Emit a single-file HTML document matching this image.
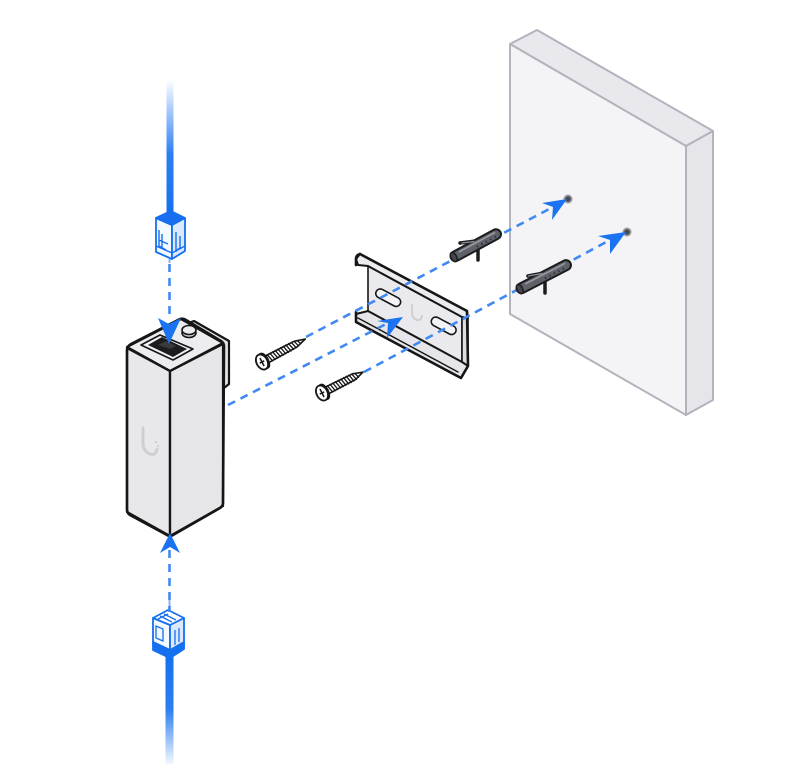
<!DOCTYPE html>
<html><head><meta charset="utf-8"><style>
html,body{margin:0;padding:0;background:#fff;}
svg{display:block;}
</style></head><body>
<svg width="800" height="764" viewBox="0 0 800 764" xmlns="http://www.w3.org/2000/svg">
<defs>
<linearGradient id="gTop" x1="0" y1="80" x2="0" y2="214" gradientUnits="userSpaceOnUse">
<stop offset="0" stop-color="#1570ef" stop-opacity="0"/>
<stop offset="0.55" stop-color="#1570ef" stop-opacity="0.9"/>
<stop offset="1" stop-color="#1570ef"/>
</linearGradient>
<linearGradient id="gBot" x1="0" y1="655" x2="0" y2="764" gradientUnits="userSpaceOnUse">
<stop offset="0" stop-color="#1570ef"/>
<stop offset="0.5" stop-color="#1570ef" stop-opacity="0.9"/>
<stop offset="1" stop-color="#1570ef" stop-opacity="0.05"/>
</linearGradient>
</defs>

<!-- WALL -->
<g stroke="#b2b4bd" stroke-width="2" stroke-linejoin="round">
<polygon points="510,44 537,30 713,131 686,146" fill="#e9e9ed"/>
<polygon points="686,146 713,131 713,400 686,415" fill="#e6e6ea"/>
<polygon points="510,44 686,146 686,415 510,314" fill="#f4f4f7"/>
</g>
<circle cx="568" cy="199" r="4.5" fill="#9a9ba2"/>
<circle cx="568" cy="199" r="2.8" fill="#4a4b52"/>
<circle cx="627" cy="232" r="4.5" fill="#9a9ba2"/>
<circle cx="627" cy="232" r="2.8" fill="#4a4b52"/>

<!-- CABLES -->
<rect x="166.5" y="80" width="7" height="136" fill="url(#gTop)"/>
<rect x="165.5" y="652" width="8" height="112" fill="url(#gBot)"/>

<!-- top connector -->
<g stroke="#1570ef" stroke-width="1.8" stroke-linejoin="round">
<polygon points="156,218 156,252 172,259 172,225" fill="#f4f8ff"/>
<polygon points="172,225 172,259 185,251 185,218" fill="#dce9fd"/>
<polygon points="156,218 171,211 185,218 172,225" fill="#1a6ff0"/>
</g>
<g stroke="#1570ef" stroke-width="1.4" fill="none">
<path d="M159,230 L159,246 L166,250 M162,234 L162,247 M159,240 L168,244"/>
<path d="M176,232 L176,252 M180,236 L180,248 L177,250"/>
<path d="M156,246 L172,253 L185,246"/>
</g>
<rect x="168.5" y="259" width="2" height="4" fill="#8bb5f5"/>

<!-- bottom connector -->
<g stroke="#1570ef" stroke-width="1.8" stroke-linejoin="round">
<polygon points="153,618 153,644 170,652 170,625" fill="#f4f8ff"/>
<polygon points="170,625 170,652 184,644 184,618" fill="#dce9fd"/>
<polygon points="153,618 168,610 184,618 170,625" fill="#ffffff"/>
<polygon points="153,642 170,650 184,642 184,649 170,658 153,650" fill="#1570ef"/>
</g>
<g stroke="#1570ef" stroke-width="1.3" fill="none">
<path d="M160,616 L172,622 M164,614 L176,620 M158,619 L168,614"/>
<path d="M156,626 L156,638 L163,641 L163,629 Z"/>
<path d="M175,630 L175,645 M179,628 L179,642"/>
</g>
<rect x="168.5" y="600" width="2" height="6" fill="#8bb5f5"/>

<!-- DEVICE -->
<g stroke="#161616" stroke-width="2.2" stroke-linejoin="round" stroke-linecap="round">
<polygon points="186,324 194,321 229,341 229,384 224,388 222,346" fill="#e4e4e8"/>
<polygon points="127,348 170,371 170,536 127,512" fill="#e8e8eb"/>
<polygon points="170,371 223,344 223,506 170,536" fill="#e6e6e9"/>
<polygon points="127,347 181,319 223,343 170,371" fill="#ededf0"/>
<path d="M131,344 L180,319 Q183,318 186,320 L221,341 Q224,343 224,346 L223,503 Q223,506 220,508 L173,535 Q170,537 167,535 L130,515 Q127,513 127,509 L127,351 Q127,346 131,344 Z" fill="none" stroke-width="2.6"/>
<path d="M128,348 L170,371 L222,344 M170,371 L170,535" fill="none"/>
</g>
<!-- port -->
<polygon points="141,345 160,335 193,349 173,360" fill="#f3f3f5" stroke="#161616" stroke-width="1.6" stroke-linejoin="round"/>
<polygon points="148,345 162,337 187,349 173,357" fill="#1c1c1e"/>
<path d="M158,345 L166,341 L176,346 L170,349 Z" fill="#3a3a3e"/>
<!-- LED -->
<ellipse cx="189" cy="333" rx="7" ry="4.5" fill="#d8d8dc" stroke="#161616" stroke-width="1.6"/>
<ellipse cx="189" cy="330" rx="7" ry="4.5" fill="#ececef" stroke="#161616" stroke-width="1.6"/>
<!-- logo -->
<path d="M143,428 L143,443 Q143,451 150,454 Q156,456 157,449" fill="none" stroke="#cfcfd3" stroke-width="3" stroke-linecap="round"/>
<circle cx="156" cy="442" r="1.2" fill="#cfcfd3"/>
<circle cx="158" cy="446" r="1" fill="#cfcfd3"/>

<!-- RAIL -->
<g stroke="#161616" stroke-linejoin="round" stroke-linecap="round">
<polygon points="368,266 462,317 462,362 368,311" fill="#eaeaee" stroke-width="1.6"/>
<polygon points="356,259 360,254 467,311 468,318 462,317 368,266 358,265" fill="#ececf0" stroke-width="2"/>
<polygon points="462,317 468,318 468,366 462,362" fill="#dedee2" stroke-width="1.6"/>
<polygon points="356,314 368,311 462,362 468,366 461,378 356,322" fill="#e6e6ea" stroke-width="2"/>
<path d="M356,257 L356,265 M358,318 L458,372" fill="none" stroke-width="1.4"/>
<path d="M360,254 L467,311 L468,366 L461,378 L356,322 L356,312 M356,265 L356,259 Q356,255 360,254" fill="none" stroke-width="2.6"/>
</g>
<g stroke="#161616" stroke-width="1.6" fill="#f4f4f6">
<rect x="375" y="293" width="27" height="9" rx="4.5" transform="rotate(28 388 297)"/>
<rect x="430" y="321" width="27" height="9" rx="4.5" transform="rotate(28 443 326)"/>
</g>
<path d="M412,305 L412,313 Q412,318 417,320 Q421,321 422,316" fill="none" stroke="#cfcfd3" stroke-width="2" stroke-linecap="round"/>

<!-- DASHED LINES -->
<g stroke="#4189f2" stroke-width="2.6" stroke-dasharray="8 6" fill="none">
<path d="M169.5,264 L169.5,320"/>
<path d="M169.5,550 L169.5,612"/>
<path d="M228,405 L388,323"/>
<path d="M306,337 L553,207"/>
<path d="M364,372 L610,240"/>
</g>

<!-- ARROWS -->
<g fill="#1a73f0">
<polygon points="169,344 158,318 169,324 181,318"/>
<polygon points="170,533 160,553 170,547 180,553"/>
<polygon points="403,317 377,321 388,323 387,338"/>
<polygon points="567,199 542,203 553,207 552,220"/>
<polygon points="626,232 598,236 610,240 610,254"/>
</g>

<!-- SCREWS -->
<g transform="translate(262,362) rotate(-28)" stroke="#161616" stroke-linejoin="round">
<polygon points="4,-3.8 38,-3.2 49,0 38,3.2 4,3.8" fill="#fff" stroke-width="1.6"/>
<path d="M8,-4.5 L10,4.5 M11,-4.5 L13,4.5 M14,-4.5 L16,4.5 M17,-4.5 L19,4.5 M20,-4.5 L22,4.5 M23,-4.5 L25,4.5 M26,-4.5 L28,4.5 M29,-4.5 L31,4.5 M32,-4.3 L34,4.3 M35,-4 L37,4 M38,-3.5 L40,3.5 M41,-2.5 L43,2.5" stroke-width="1.3" fill="none"/>
<ellipse cx="2.5" cy="0" rx="4" ry="8" fill="#e6e6e9" stroke-width="1.8"/>
<ellipse cx="0" cy="0" rx="5.5" ry="8" fill="#fff" stroke-width="1.8"/>
<path d="M0,-4.5 L0,4.5 M-2.5,0 L2.5,0" stroke-width="1.5" fill="none"/>
</g>
<g transform="translate(322,393) rotate(-27)" stroke="#161616" stroke-linejoin="round">
<polygon points="4,-3.8 36,-3.2 46,0 36,3.2 4,3.8" fill="#fff" stroke-width="1.6"/>
<path d="M8,-4.5 L10,4.5 M11,-4.5 L13,4.5 M14,-4.5 L16,4.5 M17,-4.5 L19,4.5 M20,-4.5 L22,4.5 M23,-4.5 L25,4.5 M26,-4.5 L28,4.5 M29,-4.5 L31,4.5 M32,-4.3 L34,4.3 M35,-4 L37,4 M38,-3 L40,3" stroke-width="1.3" fill="none"/>
<ellipse cx="2.5" cy="0" rx="4" ry="8" fill="#e6e6e9" stroke-width="1.8"/>
<ellipse cx="0" cy="0" rx="5.5" ry="8" fill="#fff" stroke-width="1.8"/>
<path d="M0,-4.5 L0,4.5 M-2.5,0 L2.5,0" stroke-width="1.5" fill="none"/>
</g>

<!-- ANCHORS -->
<g stroke="#1c1c20" stroke-linecap="round">
<path d="M460,243 L476,241" stroke-width="3.5"/>
<path d="M478,248 L478,260" stroke-width="3.5"/>
<path d="M528,276 L544,273" stroke-width="3.5"/>
<path d="M545,282 L545,293" stroke-width="3.5"/>
</g>
<g transform="translate(452,258) rotate(-28.4)" stroke="#1c1c20">
<rect x="-1" y="-5" width="56" height="10" rx="5" fill="#5f6169" stroke-width="2"/>
<line x1="9" y1="-2" x2="50" y2="-2" stroke="#9b9da4" stroke-width="1.5"/>
<path d="M28,1 L28,3 M33,1 L33,3 M38,1 L38,3 M43,1 L43,3 M48,1 L48,3" stroke="#2a2a2e" stroke-width="1.3"/>
<ellipse cx="2" cy="0" rx="2.8" ry="5" fill="#46484f" stroke-width="1.5"/>
</g>
<g transform="translate(518,290) rotate(-27.4)" stroke="#1c1c20">
<rect x="-1" y="-5" width="60" height="10" rx="5" fill="#5f6169" stroke-width="2"/>
<line x1="9" y1="-2" x2="54" y2="-2" stroke="#9b9da4" stroke-width="1.5"/>
<path d="M30,1 L30,3 M35,1 L35,3 M40,1 L40,3 M45,1 L45,3 M50,1 L50,3" stroke="#2a2a2e" stroke-width="1.3"/>
<ellipse cx="2" cy="0" rx="2.8" ry="5" fill="#46484f" stroke-width="1.5"/>
</g>
<g stroke="#8e9097" stroke-width="1.2" stroke-linecap="round">
<path d="M462,243 L474,241.5 M528.5,276 L542,273.5"/>
</g>
</svg>
</body></html>
